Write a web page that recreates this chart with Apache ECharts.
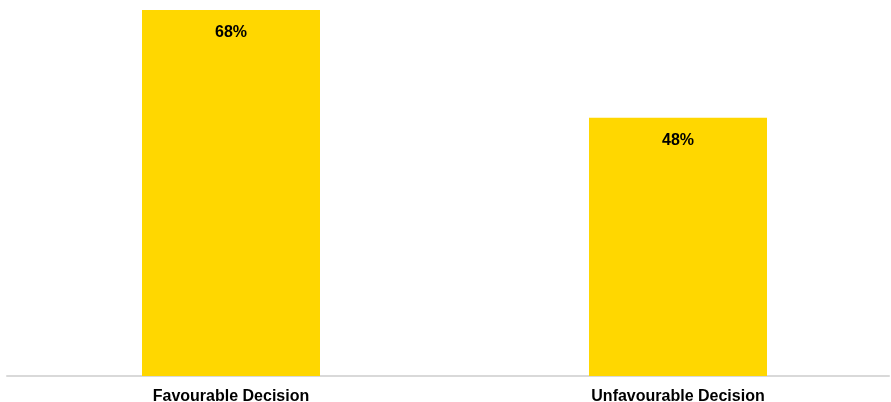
<!DOCTYPE html>
<html>
<head>
<meta charset="utf-8">
<style>
  html, body { margin: 0; padding: 0; background: #ffffff; overflow: hidden; }
  #chart { width: 891px; height: 402px; }
</style>
<script src="https://cdn.jsdelivr.net/npm/echarts@6/dist/echarts.min.js"></script>
</head>
<body>
<div id="chart"></div>
<script>
// Share of decisions by outcome (%)
const categories = ['Favourable Decision', 'Unfavourable Decision'];
const shares = [68, 48];

const chart = echarts.init(document.getElementById('chart'), null, { renderer: 'canvas' });

chart.setOption({
  animation: false,
  backgroundColor: '#ffffff',
  grid: [
    // plotting grid for the bars (its right band runs slightly past the canvas edge)
    { left: 7.5, width: 894, top: 10, bottom: 26, containLabel: false, outerBoundsMode: 'none' },
    // baseline grid: only draws the horizontal axis line
    { left: 7, right: 2, top: 10, bottom: 26, containLabel: false, outerBoundsMode: 'none' }
  ],
  xAxis: [
    {
      type: 'category',
      gridIndex: 0,
      data: categories,
      axisLine: { show: false },
      axisTick: { show: false },
      axisLabel: {
        color: '#000000',
        fontFamily: 'Liberation Sans, Arial, sans-serif',
        fontWeight: 'bold',
        fontSize: 16,
        margin: 13
      }
    },
    {
      type: 'value',
      gridIndex: 1,
      min: 0,
      max: 1,
      axisLine: { show: true, lineStyle: { color: '#d9d9d9', width: 2 } },
      axisTick: { show: false },
      axisLabel: { show: false },
      splitLine: { show: false }
    }
  ],
  yAxis: [
    {
      type: 'value',
      gridIndex: 0,
      min: 0,
      max: 68,
      show: false,
      splitLine: { show: false }
    },
    {
      type: 'value',
      gridIndex: 1,
      show: false,
      splitLine: { show: false }
    }
  ],
  series: [
    {
      type: 'bar',
      xAxisIndex: 0,
      yAxisIndex: 0,
      data: shares,
      barWidth: 178,
      itemStyle: { color: '#FFD700' },
      label: {
        show: true,
        position: 'insideTop',
        distance: 15,
        formatter: '{c}%',
        color: '#000000',
        fontFamily: 'Liberation Sans, Arial, sans-serif',
        fontWeight: 'bold',
        fontSize: 16
      }
    }
  ]
});
</script>
</body>
</html>
